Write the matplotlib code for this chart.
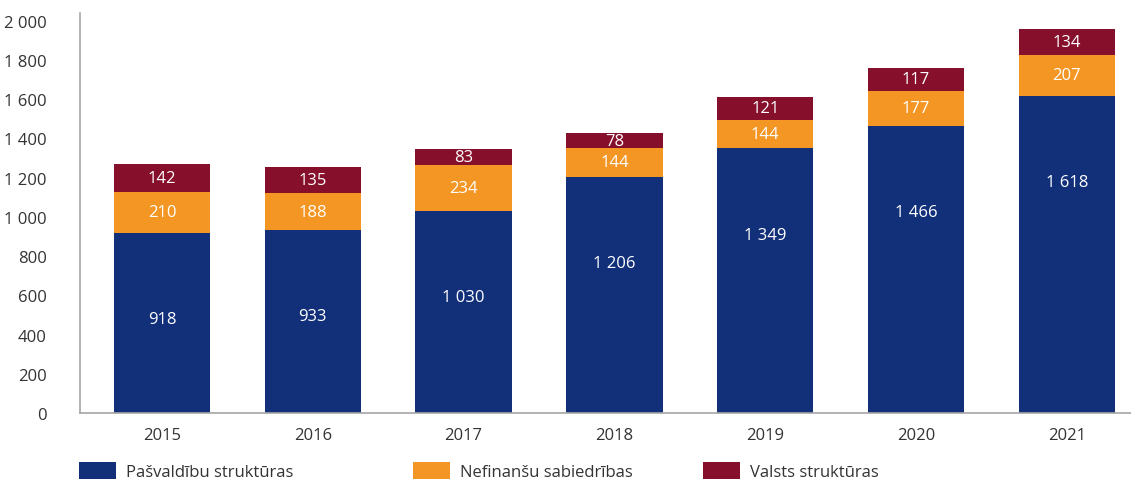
import matplotlib
matplotlib.use("Agg")
import matplotlib.pyplot as plt
import numpy as np

plt.rcParams['font.family'] = ['Open Sans', 'DejaVu Sans']

years = ['2015', '2016', '2017', '2018', '2019', '2020', '2021']
pasvaldibu = [918, 933, 1030, 1206, 1349, 1466, 1618]
nefinansu = [210, 188, 234, 144, 144, 177, 207]
valsts = [142, 135, 83, 78, 121, 117, 134]
names = ['Pašvaldību struktūras', 'Nefinanšu sabiedrības', 'Valsts struktūras']
colors = ['#12307a', '#f39623', '#860f2b']

def fmt(v):
    return '{:,}'.format(int(v)).replace(',', ' ')

fig = plt.figure(figsize=(11.31, 4.81), dpi=100)
ax = fig.add_axes([80/1131, 67/481, 1051/1131, 400/481])

x = np.arange(len(years))
w = 0.64
series = [pasvaldibu, nefinansu, valsts]
bottom = np.zeros(len(years))
handles = []
for k, (vals, c) in enumerate(zip(series, colors)):
    vals = np.array(vals)
    b = ax.bar(x, vals, w, bottom=bottom, color=c, linewidth=0)
    handles.append(b)
    for xi, v, bt in zip(x, vals, bottom):
        if k == 0:
            # blue labels sit a fixed distance below the segment top
            ax.annotate(fmt(v), (xi, bt + v), xytext=(0, -62), textcoords='offset points',
                        ha='center', va='center', color='white', fontsize=12)
        else:
            ax.text(xi, bt + v/2, fmt(v), ha='center', va='center',
                    color='white', fontsize=12)
    bottom += vals

ax.set_xlim(-0.544, 6.426)
ax.set_ylim(0, 2040)
ax.set_yticks(np.arange(0, 2001, 200))
ax.set_yticklabels([fmt(v) for v in np.arange(0, 2001, 200)])
ax.set_xticks(x)
ax.set_xticklabels(years)
ax.tick_params(axis='both', length=0, labelsize=12, labelcolor='#333333')
ax.tick_params(axis='y', pad=24)
ax.tick_params(axis='x', pad=10)
for s in ['top', 'right']:
    ax.spines[s].set_visible(False)
for s in ['left', 'bottom']:
    ax.spines[s].set_color('#a6a6a6')
    ax.spines[s].set_linewidth(1.2)

# legend entries at fixed columns
for h, n, xp in zip(handles, names, [79, 413, 703]):
    fig.legend([h], [n], loc='center left', bbox_to_anchor=(xp/1131, 1 - 472/481),
               frameon=False, fontsize=12, handlelength=2.2, handleheight=1.2,
               handletextpad=0.6, borderpad=0, borderaxespad=0, labelcolor='#333333')

fig.savefig('out.png', dpi=100)
